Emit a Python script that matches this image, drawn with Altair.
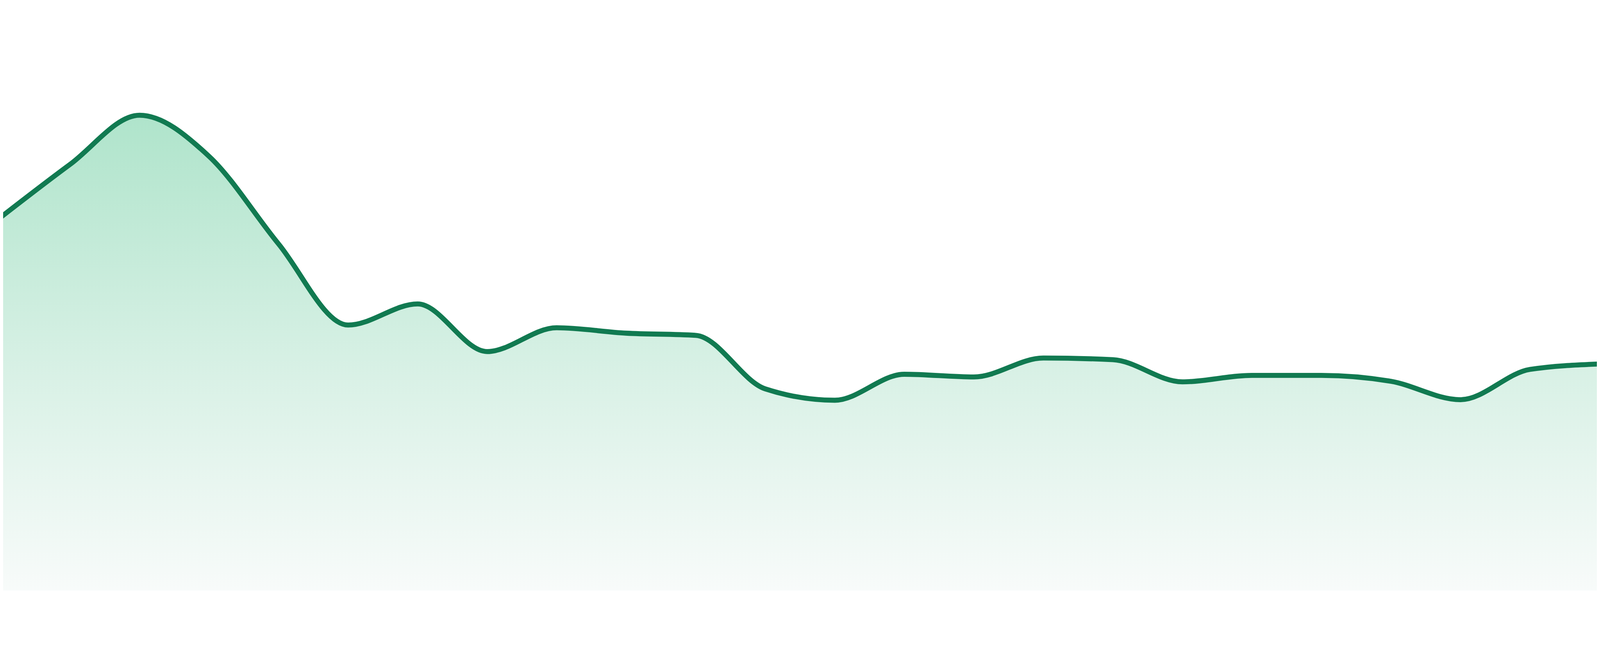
import altair as alt
import pandas as pd

# Data (24 evenly spaced points, no axes shown)
index = list(range(24))
values = [69.0, 78.8, 87.9, 80.3, 64.1, 49.1, 53.0, 44.2, 48.6, 47.6, 47.2, 37.3,
          35.2, 40.0, 39.5, 43.0, 42.7, 38.6, 39.8, 39.8, 38.7, 35.3, 40.9, 41.9]

df = pd.DataFrame({"i": index, "v": values})

W = 4784
H = 1624
edge = 8 / (4800 / 23)  # page margin expressed in index units

x_enc = alt.X("i:Q", axis=None, scale=alt.Scale(domain=[edge, 23 - edge], nice=False, zero=False))
y_enc = alt.Y("v:Q", axis=None, scale=alt.Scale(domain=[0, 100], nice=False))

area = alt.Chart(df).mark_area(
    interpolate="monotone",
    clip=True,
    color=alt.Gradient(
        gradient="linear",
        stops=[
            alt.GradientStop(color="#afe4cb", offset=0),
            alt.GradientStop(color="#d9f1e6", offset=0.55),
            alt.GradientStop(color="#f8fbfa", offset=1),
        ],
        x1=0, x2=0, y1=0, y2=1,
    ),
).encode(x=x_enc, y=y_enc)

line = alt.Chart(df).mark_line(
    interpolate="monotone",
    clip=True,
    color="#117a51",
    strokeWidth=15,
).encode(x=x_enc, y=y_enc)

chart = (
    alt.layer(area, line)
    .properties(width=W, height=H, padding=0, background="white")
    .configure_view(strokeWidth=0)
)

chart.save("out.html", embed_options={"renderer": "svg", "actions": False})
